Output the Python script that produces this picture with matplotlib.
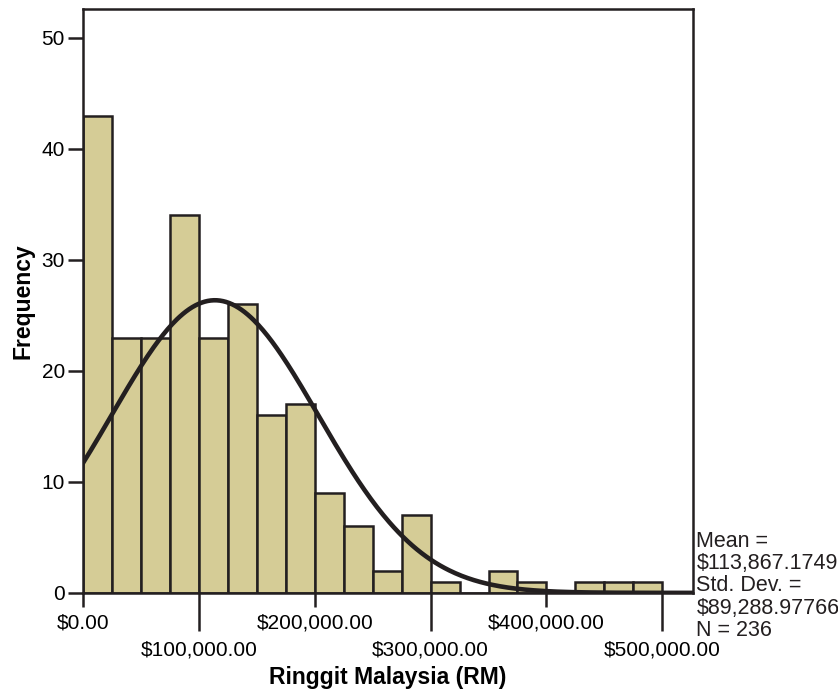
import numpy as np
from matplotlib import pyplot as plt

plt.rcParams['font.family'] = ['Liberation Sans', 'DejaVu Sans']

# histogram counts, bins of RM 25,000 from 0 to 500,000
bin_left = np.arange(0, 500000, 25000)
counts = [43, 23, 23, 34, 23, 26, 16, 17, 9, 6, 2, 7, 1, 0, 2, 1, 0, 1, 1, 1]
bin_width = 25000

mean = 113867.1749
std = 89288.97766
n = 236

major_ticks = [0, 200000, 400000]
major_labels = ['$0.00', '$200,000.00', '$400,000.00']
minor_ticks = [100000, 300000, 500000]
minor_labels = ['$100,000.00', '$300,000.00', '$500,000.00']

edge = '#231F20'
fill = '#D5CC96'

fig = plt.figure(figsize=(8.38, 6.91), dpi=100)
ax = fig.add_axes([0.099, 0.142, 0.728, 0.845])

ax.bar(bin_left, counts, width=bin_width, align='edge', color=fill,
       edgecolor=edge, linewidth=1.8, zorder=2)

# fitted normal curve
xs = np.linspace(0, 530000, 400)
ys = n * bin_width / (std * np.sqrt(2 * np.pi)) * np.exp(-0.5 * ((xs - mean) / std) ** 2)
ax.plot(xs, ys, color=edge, linewidth=3.3, zorder=3)

ax.set_xlim(0, 526500)
ax.set_ylim(0, 52.6)

ax.set_yticks([0, 10, 20, 30, 40, 50])
ax.tick_params(axis='y', length=11, width=1.8, color=edge, labelsize=15, pad=2)

ax.set_xticks(major_ticks)
ax.set_xticklabels(major_labels)
ax.set_xticks(minor_ticks, minor=True)
ax.set_xticklabels(minor_labels, minor=True)
ax.tick_params(axis='x', which='major', length=10, width=1.8, color=edge, labelsize=15, pad=5)
ax.tick_params(axis='x', which='minor', length=27, width=1.8, color=edge, labelsize=15, pad=7)

for s in ax.spines.values():
    s.set_linewidth(1.8)
    s.set_color(edge)

ax.set_xlabel('Ringgit Malaysia (RM)', fontsize=16.5, fontweight='bold', labelpad=5)
ax.set_ylabel('Frequency', fontsize=16.5, fontweight='bold', labelpad=5)

stats = f'Mean =\n${mean:,.4f}\nStd. Dev. =\n${std:,.5f}\nN = {n}'
fig.text(0.831, 0.232, stats, fontsize=15.5, va='top', ha='left', color=edge,
         linespacing=1.08)

fig.savefig('out.png', dpi=100)
